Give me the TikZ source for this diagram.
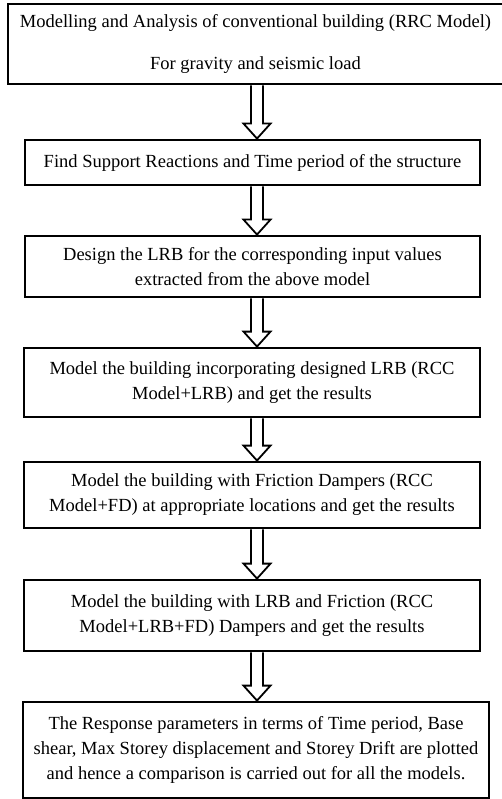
\documentclass[tikz,border=0pt]{standalone}
\usepackage{fontspec}
\setmainfont{Liberation Serif}
\usepackage{tikz}
\usetikzlibrary{calc}
\usetikzlibrary{positioning}

\tikzset{
  stagebox/.style={draw, line width=2.8pt, rectangle, align=center,
    inner sep=0pt, font=\fontsize{18.5}{25}\selectfont},
  hollow/.style={draw, line width=1.8pt, fill=white, line join=miter}
}
% hollow block arrow from one box to the next, on the arrow axis
\newcommand{\hollowarrow}[2]{
  \draw [hollow] ($(#1.south -| axis) + (-6, 0)$)
  -- ($(#2.north -| axis) + (-6, -15)$)
  -- ($(#2.north -| axis) + (-13.5, -15)$)
  -- (#2.north -| axis)
  -- ($(#2.north -| axis) + (13.5, -15)$)
  -- ($(#2.north -| axis) + (6, -15)$)
  -- ($(#1.south -| axis) + (6, 0)$);
}

\begin{document}
\begin{tikzpicture}[x=1pt, y=-1pt]

  \fill [white] (0, 0) rectangle (501, 799);
  \useasboundingbox (0, 0) rectangle (501, 799);

  \coordinate (axis) at (257, 0); % arrow axis

  % stages of the study
  \node [stagebox, minimum width=495, minimum height=80] (model) at (255.5, 44)
    {Modelling and Analysis of conventional building (RRC Model)\\[17pt]
     For gravity and seismic load};
  \node [stagebox, minimum width=455, minimum height=45] (reactions) at (252.5, 162.5)
    {Find Support Reactions and Time period of the structure};
  \node [stagebox, minimum width=455, minimum height=61] (design) at (252.5, 266.5)
    {Design the LRB for the corresponding input values\\
     extracted from the above model};
  \node [stagebox, minimum width=456, minimum height=69] (lrb) at (252, 382.5)
    {Model the building incorporating designed LRB (RCC\\
     Model+LRB) and get the results};
  \node [stagebox, minimum width=456, minimum height=66] (fd) at (252, 495)
    {Model the building with Friction Dampers (RCC\\
     Model+FD) at appropriate locations and get the results};
  \node [stagebox, minimum width=456, minimum height=71] (lrbfd) at (252, 615.5)
    {Model the building with LRB and Friction (RCC\\
     Model+LRB+FD) Dampers and get the results};
  \node [stagebox, minimum width=466, minimum height=96] (compare) at (256, 750)
    {The Response parameters in terms of Time period, Base\\
     shear, Max Storey displacement and Storey Drift are plotted\\
     and hence a comparison is carried out for all the models.};

  % arrows between the stages
  \hollowarrow{model}{reactions}
  \hollowarrow{reactions}{design}
  \hollowarrow{design}{lrb}
  \hollowarrow{lrb}{fd}
  \hollowarrow{fd}{lrbfd}
  \hollowarrow{lrbfd}{compare}

\end{tikzpicture}
\end{document}
